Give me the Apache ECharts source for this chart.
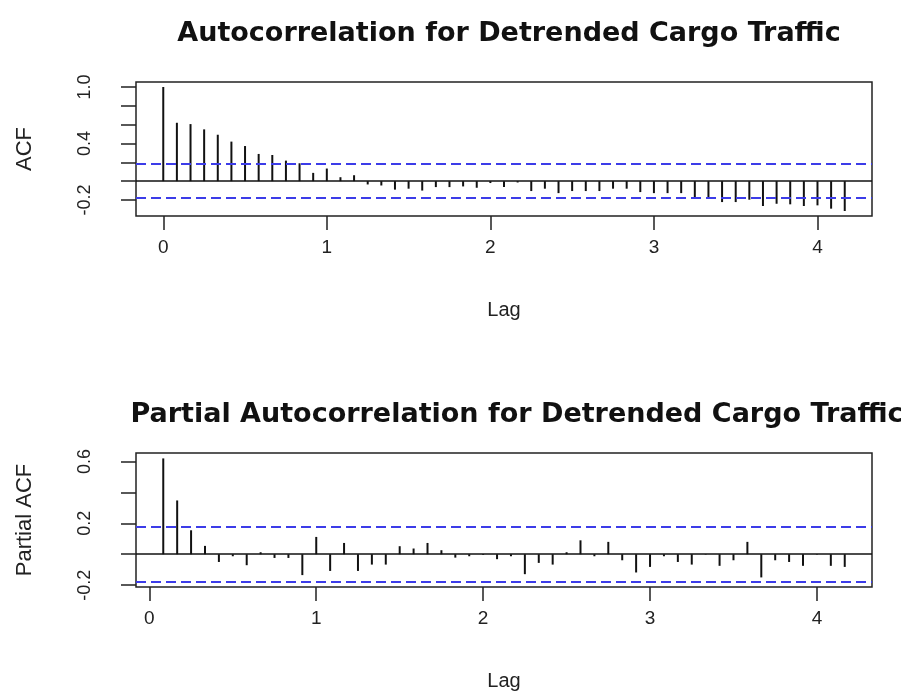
<!DOCTYPE html>
<html>
<head>
<meta charset="utf-8">
<script src="https://cdn.jsdelivr.net/npm/echarts@6/dist/echarts.min.js"></script>
<style>
  html, body { margin: 0; padding: 0; background: #fff; }
  #acfChart { width: 901px; height: 693px; }
</style>
</head>
<body>
<div id="acfChart"></div>
<script>
// monthly series, lag shown in years
var lagStep = 1 / 12;

// ACF, lags 0..50
var acfValues = [1.0, 0.62, 0.606, 0.55, 0.493, 0.42, 0.373, 0.289, 0.278, 0.218,
    0.19, 0.088, 0.134, 0.042, 0.063, -0.035, -0.046, -0.09, -0.08, -0.1,
    -0.063, -0.063, -0.056, -0.07, -0.02, -0.063, -0.014, -0.105, -0.08, -0.127,
    -0.105, -0.105, -0.105, -0.08, -0.08, -0.116, -0.127, -0.127, -0.127, -0.187,
    -0.169, -0.222, -0.222, -0.197, -0.264, -0.24, -0.246, -0.264, -0.257, -0.292,
    -0.317];

// PACF, lags 1..50
var pacfValues = [0.62, 0.348, 0.155, 0.054, -0.05, -0.013, -0.071, 0.013, -0.024, -0.024,
    -0.135, 0.112, -0.108, 0.073, -0.108, -0.067, -0.067, 0.052, 0.037, 0.073,
    0.026, -0.022, -0.013, -0.005, -0.032, -0.013, -0.129, -0.056, -0.067, 0.013,
    0.09, -0.013, 0.08, -0.039, -0.118, -0.082, -0.013, -0.05, -0.067, -0.003,
    -0.075, -0.039, 0.08, -0.15, -0.039, -0.05, -0.075, -0.003, -0.075, -0.082];

var confLimit = 0.178;

var xTicks = [0, 1, 2, 3, 4];
var acfYTicks = [-0.2, 0, 0.2, 0.4, 0.6, 0.8, 1.0];
var acfYLabels = [-0.2, 0.4, 1.0];
var pacfYTicks = [-0.2, 0, 0.2, 0.4, 0.6];
var pacfYLabels = [-0.2, 0.2, 0.6];

var acfData = acfValues.map(function (v, i) { return [i * lagStep, v]; });
var pacfData = pacfValues.map(function (v, i) { return [(i + 1) * lagStep, v]; });

var chart = echarts.init(document.getElementById('acfChart'));

var font = 'Liberation Sans, Arial, sans-serif';

function xAxisOf(idx, min, max) {
    return {
        type: 'value',
        gridIndex: idx,
        min: min,
        max: max,
        name: 'Lag',
        nameLocation: 'middle',
        nameGap: 84,
        nameTextStyle: { fontFamily: font, fontSize: 20, color: '#222' },
        splitLine: { show: false },
        axisLine: { show: false, onZero: false },
        axisTick: { show: true, length: 14, customValues: xTicks, lineStyle: { color: '#222', width: 1.5 } },
        axisLabel: { customValues: xTicks, margin: 22, fontFamily: font, fontSize: 19, color: '#222' }
    };
}

function yAxisOf(idx, min, max, name, ticks, labels) {
    return {
        type: 'value',
        gridIndex: idx,
        min: min,
        max: max,
        name: name,
        nameLocation: 'middle',
        nameRotate: 90,
        nameGap: 100,
        nameTextStyle: { fontFamily: font, fontSize: 22, color: '#222' },
        splitLine: { show: false },
        axisLine: { show: false, onZero: false },
        axisTick: { show: true, length: 15, customValues: ticks, lineStyle: { color: '#222', width: 1.5 } },
        axisLabel: {
            customValues: labels, rotate: 90, margin: 42,
            fontFamily: font, fontSize: 18, color: '#222',
            formatter: function (v) { return v.toFixed(1); }
        }
    };
}

function refLines() {
    return {
        silent: true,
        symbol: ['none', 'none'],
        label: { show: false },
        data: [
            { yAxis: 0, lineStyle: { color: '#111', width: 1.5, type: 'solid' } },
            { yAxis: confLimit, lineStyle: { color: '#3c3ce8', width: 2, type: [10, 5] } },
            { yAxis: -confLimit, lineStyle: { color: '#3c3ce8', width: 2, type: [10, 5] } }
        ]
    };
}

var option = {
    animation: false,
    backgroundColor: '#fff',
    title: [
        {
            text: 'Autocorrelation for Detrended Cargo Traffic',
            left: 504, top: 15, textAlign: 'center',
            textStyle: { fontFamily: 'DejaVu Sans', fontWeight: 'bold', fontSize: 27, color: '#111' }
        },
        {
            text: 'Partial Autocorrelation for Detrended Cargo Traffic',
            left: 512, top: 396, textAlign: 'center',
            textStyle: { fontFamily: 'DejaVu Sans', fontWeight: 'bold', fontSize: 27, color: '#111' }
        }
    ],
    grid: [
        { left: 136, top: 82, width: 736, height: 134, show: true, borderColor: '#222', borderWidth: 1.5 },
        { left: 136, top: 453, width: 736, height: 134, show: true, borderColor: '#222', borderWidth: 1.5 }
    ],
    xAxis: [
        xAxisOf(0, -50 * lagStep * 0.04, 50 * lagStep * 1.04),
        xAxisOf(1, lagStep - 49 * lagStep * 0.04, 50 * lagStep + 49 * lagStep * 0.04)
    ],
    yAxis: [
        yAxisOf(0, -0.37, 1.053, 'ACF', acfYTicks, acfYLabels),
        yAxisOf(1, -0.212, 0.655, 'Partial ACF', pacfYTicks, pacfYLabels)
    ],
    series: [
        {
            type: 'bar',
            xAxisIndex: 0,
            yAxisIndex: 0,
            barWidth: 2,
            itemStyle: { color: '#111' },
            data: acfData,
            markLine: refLines()
        },
        {
            type: 'bar',
            xAxisIndex: 1,
            yAxisIndex: 1,
            barWidth: 2,
            itemStyle: { color: '#111' },
            data: pacfData,
            markLine: refLines()
        }
    ]
};
chart.setOption(option);
</script>
</body>
</html>
